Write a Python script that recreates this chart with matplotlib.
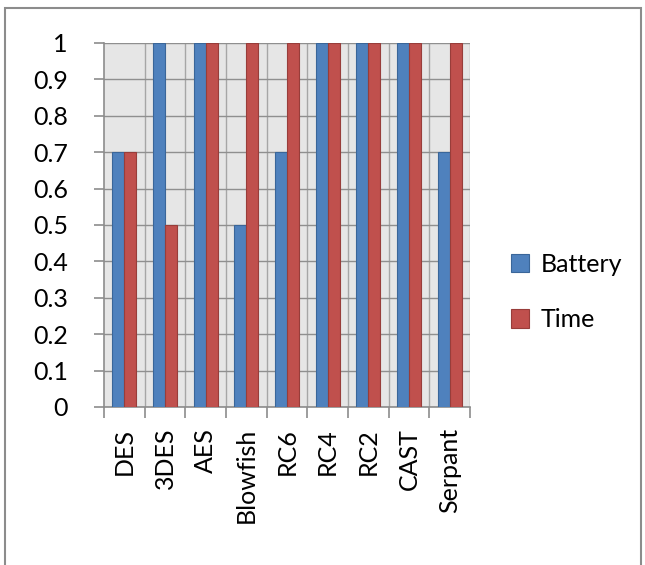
import matplotlib.pyplot as plt
import numpy as np
from matplotlib.patches import Rectangle

# Chart data
algorithms = ["DES", "3DES", "AES", "Blowfish", "RC6", "RC4", "RC2", "CAST", "Serpant"]
battery = [0.7, 1.0, 1.0, 0.5, 0.7, 1.0, 1.0, 1.0, 0.7]
time_vals = [0.7, 0.5, 1.0, 1.0, 1.0, 1.0, 1.0, 1.0, 1.0]
yticks = [0, 0.1, 0.2, 0.3, 0.4, 0.5, 0.6, 0.7, 0.8, 0.9, 1]

plt.rcParams['font.family'] = ['Lato', 'DejaVu Sans']

fig = plt.figure(figsize=(6.45, 5.65), dpi=100)
# outer chart border
fig.patches.append(Rectangle((5 / 645, -0.01), 636 / 645, 1 - 8 / 565 + 0.01,
                             transform=fig.transFigure, fill=False,
                             edgecolor="#8c8c8c", linewidth=1.5))

ax = fig.add_axes([104 / 645, 1 - 407 / 565, 366 / 645, 364 / 565])
ax.set_facecolor("#E6E6E6")

x = np.arange(len(algorithms))
w = 0.295
ax.bar(x - w / 2, battery, w, color="#4F81BD", edgecolor="#3A6699", linewidth=0.8, label="Battery", zorder=3)
ax.bar(x + w / 2, time_vals, w, color="#C0504D", edgecolor="#983D3A", linewidth=0.8, label="Time", zorder=3)

ax.set_xlim(-0.5, len(algorithms) - 0.5)
ax.set_ylim(0, 1)
ax.set_yticks(yticks)
ax.set_yticklabels(["0"] + [f"{v:g}" for v in yticks[1:]])
ax.set_xticks(x)
ax.set_xticklabels(algorithms, rotation=90)
ax.set_xticks(np.arange(-0.5, len(algorithms)), minor=True)

ax.grid(axis="y", color="#8f8f8f", linewidth=1.0, zorder=0)
for b in np.arange(0.5, len(algorithms) - 0.5 + 1):
    ax.axvline(b, color="#a6a6a6", linewidth=1.0, zorder=1)

for s in ["top", "right"]:
    ax.spines[s].set_visible(False)
for s in ["left", "bottom"]:
    ax.spines[s].set_color("#8c8c8c")
    ax.spines[s].set_linewidth(1.2)

ax.tick_params(axis="y", length=7, width=1.2, color="#8c8c8c", pad=19, labelsize=18)
ax.tick_params(axis="x", which="major", length=0, pad=15, labelsize=18)
ax.tick_params(axis="x", which="minor", length=8, width=1.2, color="#8c8c8c")

fig.legend(loc="center left", bbox_to_anchor=(488 / 645, 1 - 292 / 565), frameon=False,
           fontsize=18, handlelength=0.75, handleheight=0.75, handletextpad=0.45,
           labelspacing=1.3)

fig.savefig("out.png", dpi=100)
